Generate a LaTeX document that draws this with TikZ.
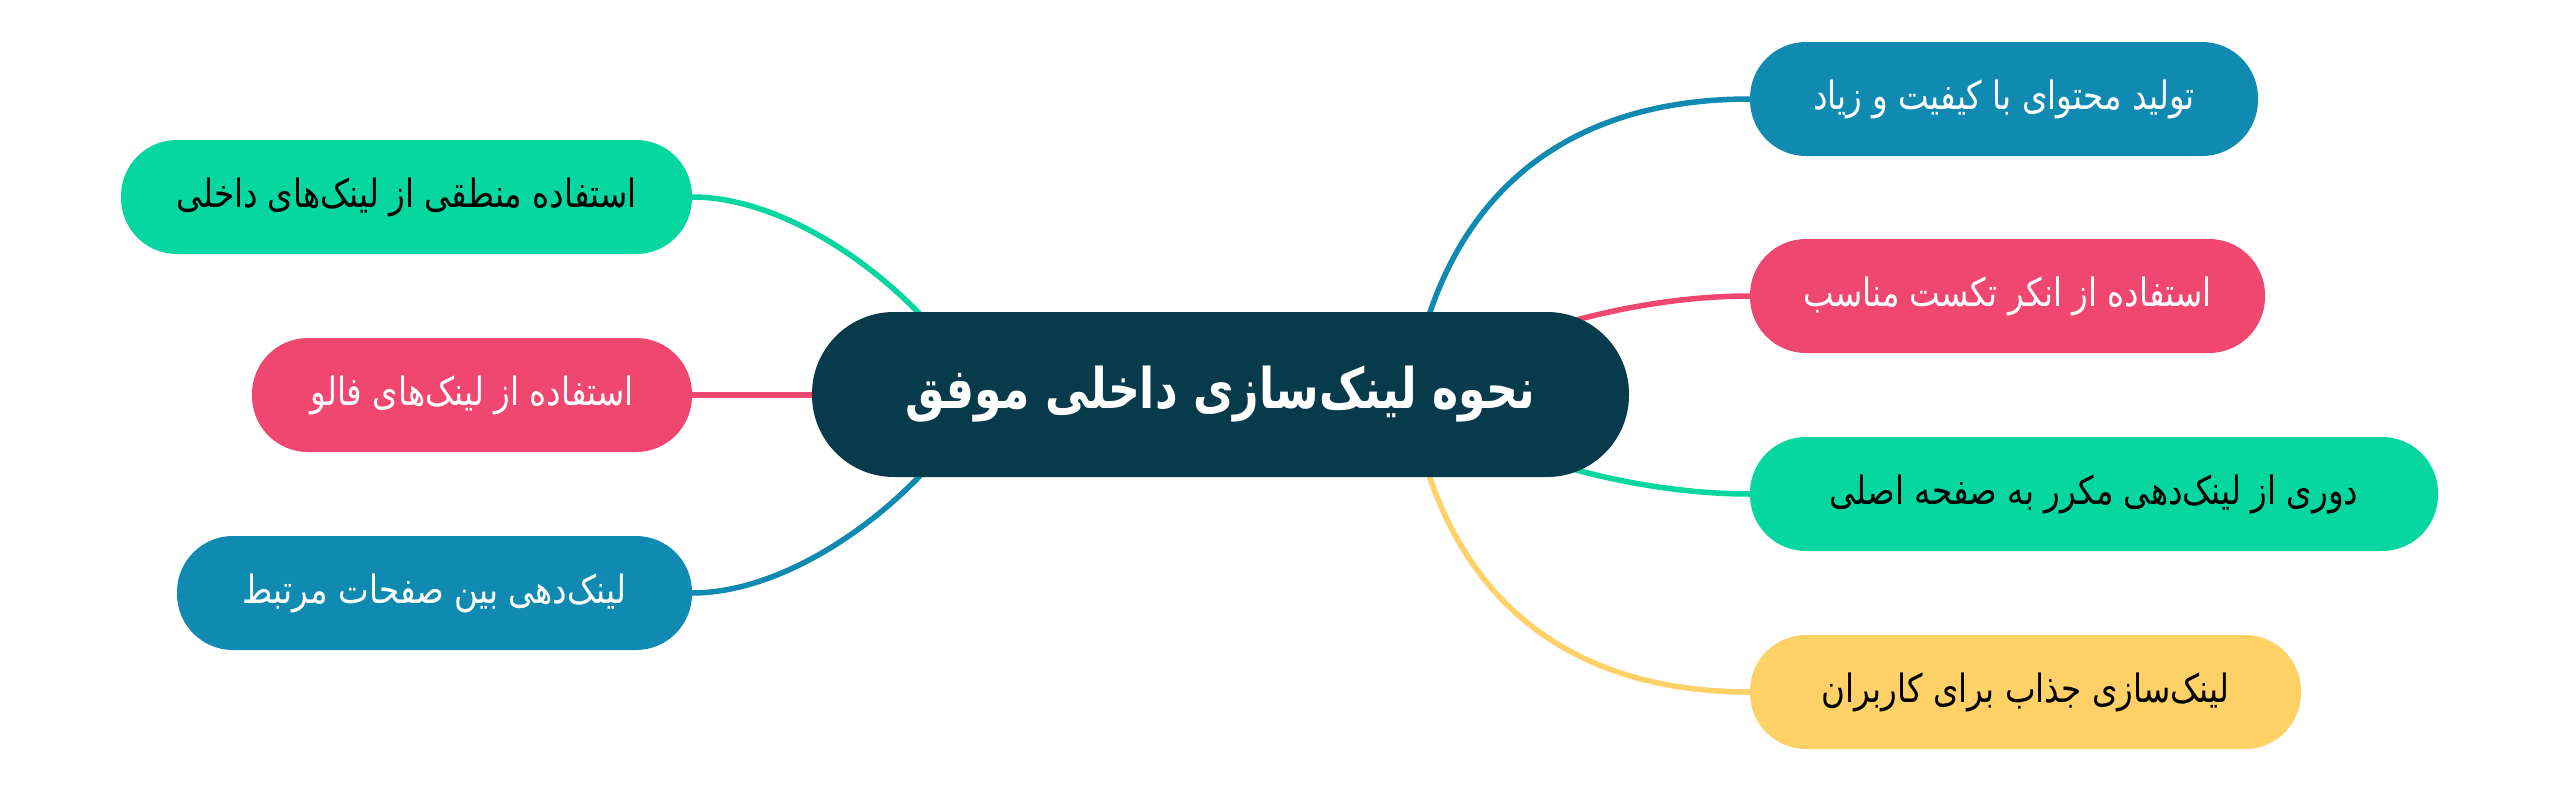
\documentclass[tikz,border=0pt]{standalone}
\usepackage{fontspec}
\usetikzlibrary{backgrounds}
\TeXXeTstate=1
\newfontfamily\arabicfont[Script=Arabic,FakeStretch=0.835]{DejaVu Sans}
\newfontfamily\arabichubfont[Script=Arabic,FakeStretch=0.79]{DejaVu Sans}
\definecolor{cdark}{HTML}{073B4C}
\definecolor{cblue}{HTML}{118AB2}
\definecolor{cpink}{HTML}{EF476F}
\definecolor{cgreen}{HTML}{06D6A0}
\definecolor{cyellow}{HTML}{FFD166}
\tikzset{
  leaf/.style={rounded corners=56pt, minimum height=114pt, inner sep=0pt,
    font=\arabicfont\fontsize{39}{46}\selectfont},
  hub/.style={rounded corners=82pt, minimum height=165pt, minimum width=817pt,
    inner sep=0pt, fill=cdark, text=white,
    font=\arabichubfont\bfseries\fontsize{56}{66}\selectfont},
  link/.style={line width=5.5pt},
}
\begin{document}
\begin{tikzpicture}[x=1pt,y=-1pt]
\useasboundingbox (0,0) rectangle (2560,790);
\coordinate (cr) at (1410,395);
\coordinate (cl) at (980,395);
\node[hub] (c) at (1220.5,394.5) {\beginR نحوه لینک‌سازی داخلی موفق\endR};
% right
\node[leaf, fill=cblue, text=white, minimum width=508pt] (r1) at (2004,99) {\beginR تولید محتوای با کیفیت و زیاد\endR};
\node[leaf, fill=cpink, text=white, minimum width=515pt] (r2) at (2007.5,296) {\beginR استفاده از انکر تکست مناسب\endR};
\node[leaf, fill=cgreen, text=black, minimum width=688pt] (r3) at (2094,494) {\beginR دوری از لینک‌دهی مکرر به صفحه اصلی\endR};
\node[leaf, fill=cyellow, text=black, minimum width=551pt] (r4) at (2025.5,692) {\beginR لینک‌سازی جذاب برای کاربران\endR};
% left
\node[leaf, fill=cgreen, text=black, minimum width=571pt] (l1) at (406.5,197) {\beginR استفاده منطقی از لینک‌های داخلی\endR};
\node[leaf, fill=cpink, text=white, minimum width=440pt] (l2) at (472,395) {\beginR استفاده از لینک‌های فالو\endR};
\node[leaf, fill=cblue, text=white, minimum width=515pt] (l3) at (434.5,593) {\beginR لینک‌دهی بین صفحات مرتبط\endR};
\begin{scope}[on background layer]
\fill[white] (0,0) rectangle (2560,790);
\draw[link, cblue] (cr) .. controls +(30,-195) and +(-190,0) .. (r1.west);
\draw[link, cpink] (cr) .. controls +(90,-65) and +(-110,0) .. (r2.west);
\draw[link, cgreen] (cr) .. controls +(90,65) and +(-110,0) .. (r3.west);
\draw[link, cyellow] (cr) .. controls +(30,195) and +(-190,0) .. (r4.west);
\draw[link, cgreen] (cl) .. controls +(-50,-95) and +(108,0) .. (l1.east);
\draw[link, cpink] (cl) -- (l2.east);
\draw[link, cblue] (cl) .. controls +(-50,95) and +(108,0) .. (l3.east);
\end{scope}
\end{tikzpicture}
\end{document}
